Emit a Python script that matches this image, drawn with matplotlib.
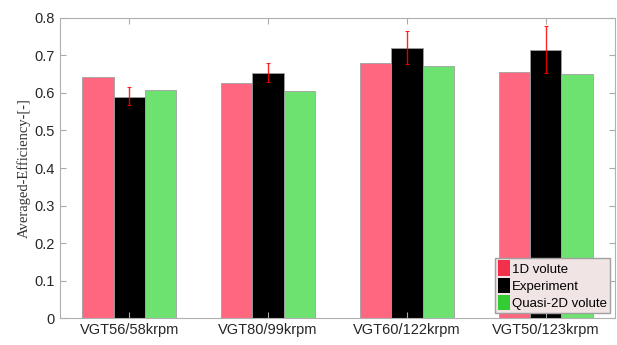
import numpy as np
import matplotlib.pyplot as plt
from matplotlib.patches import Patch

## data
cases = ['VGT56/58krpm', 'VGT80/99krpm', 'VGT60/122krpm', 'VGT50/123krpm']
eff_1d = [0.643, 0.627, 0.680, 0.656]
eff_exp = [0.590, 0.654, 0.721, 0.714]
eff_q2d = [0.607, 0.605, 0.673, 0.650]
err_lo = [0.567, 0.628, 0.677, 0.652]
err_hi = [0.615, 0.681, 0.765, 0.779]
yticks = [0, 0.1, 0.2, 0.3, 0.4, 0.5, 0.6, 0.7, 0.8]

c_1d, c_exp, c_q2d = '#FF667F', '#000000', '#6EE271'
plt.rcParams['font.family'] = ['Liberation Sans', 'DejaVu Sans']

## plot
fig = plt.figure(figsize=(6.17, 3.45), dpi=100)
ax = fig.add_axes([0.097, 0.078, 0.9, 0.87])

x = np.arange(1, len(cases) + 1)
w = 0.225
ax.bar(x - w, eff_1d, w, color=c_1d, edgecolor='#A0A0A0', linewidth=0.6)
ax.bar(x, eff_exp, w, color=c_exp, edgecolor='#A0A0A0', linewidth=0.6)
ax.bar(x + w, eff_q2d, w, color=c_q2d, edgecolor='#A0A0A0', linewidth=0.6)

exp = np.array(eff_exp)
yerr = [exp - np.array(err_lo), np.array(err_hi) - exp]
ax.errorbar(x, exp, yerr=yerr, fmt='none', ecolor='red', elinewidth=1,
            capsize=1.5, capthick=0.8, alpha=0.85)

ax.set_xlim(0.5, 4.5)
ax.set_ylim(0, 0.8)
ax.set_xticks(x)
ax.set_xticklabels(cases, fontsize=10.5)
ax.set_yticks(yticks)
ax.set_yticklabels([f'{v:g}' for v in yticks], fontsize=10.5)
ax.tick_params(direction='in', length=4, color='#AAAAAA', labelcolor='#262626',
               top=True, right=True)
for s in ax.spines.values():
    s.set_color('#B0B0B0')
    s.set_linewidth(0.8)

ax.set_ylabel('Averaged-Efficiency-[-]', family=['Liberation Serif', 'DejaVu Serif'],
              fontsize=10.5, color='#333333', labelpad=3)

handles = [Patch(facecolor='#F2304C', edgecolor='none', label='1D volute'),
           Patch(facecolor='#000000', edgecolor='none', label='Experiment'),
           Patch(facecolor='#33CC33', edgecolor='none', label='Quasi-2D volute')]
leg = ax.legend(handles=handles, loc='lower right', fontsize=9.5, frameon=True,
                fancybox=False, handlelength=0.9, handleheight=1.4,
                handletextpad=0.2, borderpad=0.2, labelspacing=0.15,
                borderaxespad=0.4)
leg.get_frame().set_facecolor('#F0E4E4')
leg.get_frame().set_edgecolor('#A0A0A0')
leg.get_frame().set_alpha(1)

plt.savefig('out.png', dpi=100)
plt.close(fig)
